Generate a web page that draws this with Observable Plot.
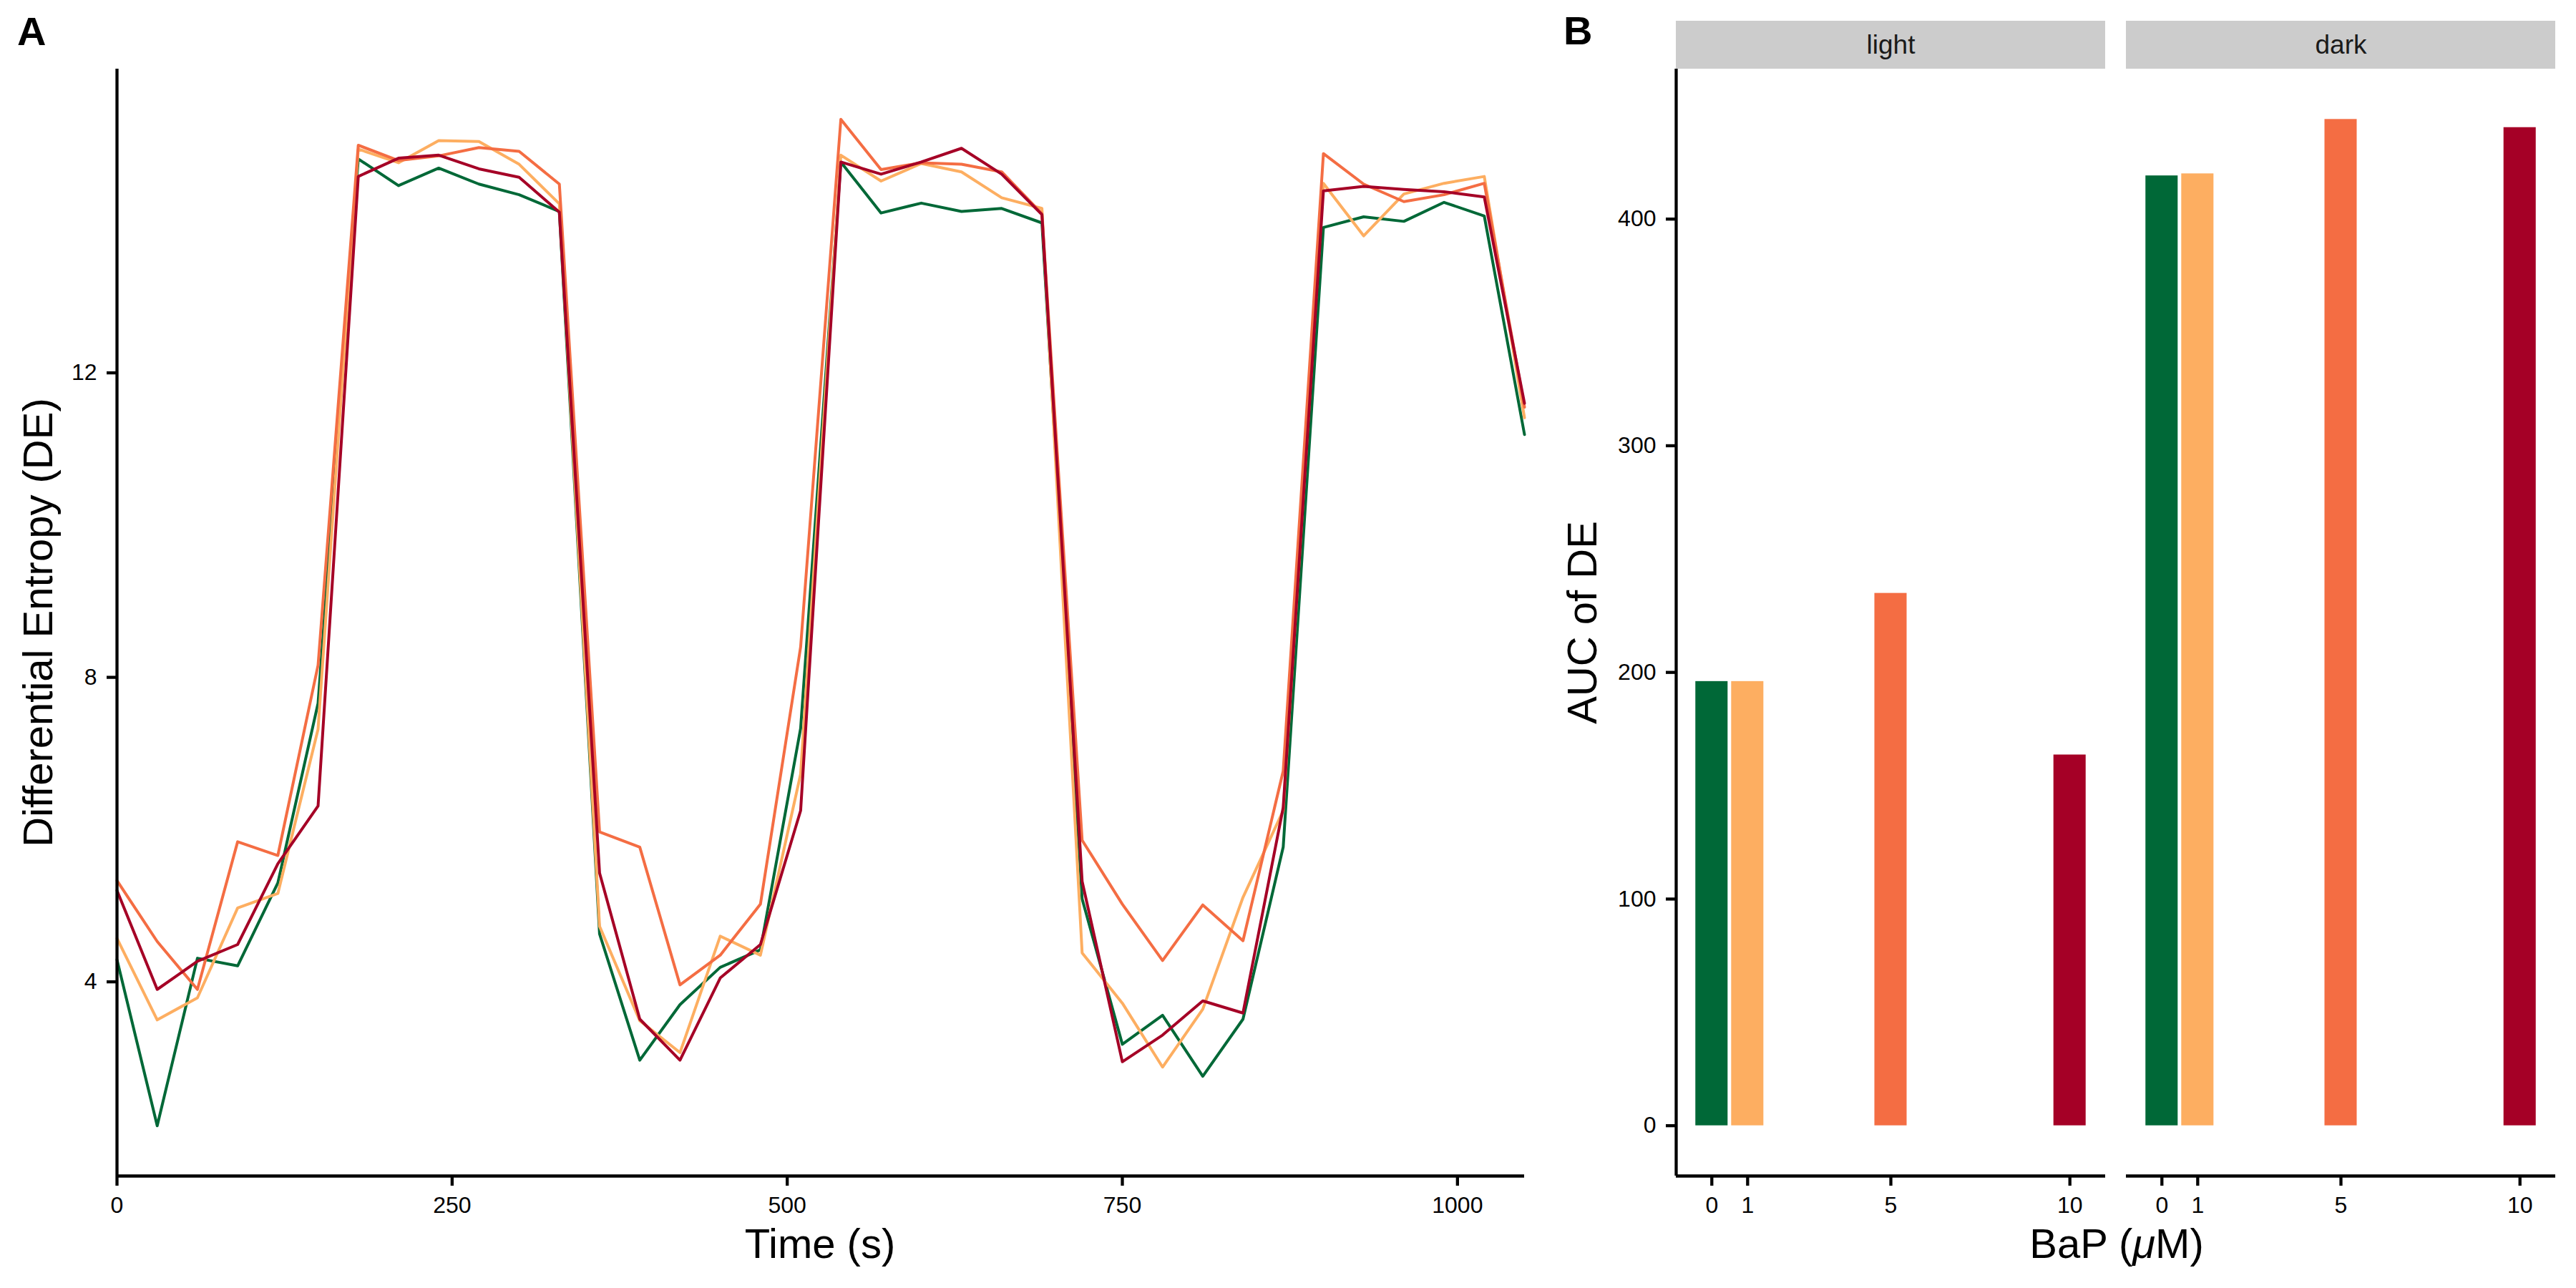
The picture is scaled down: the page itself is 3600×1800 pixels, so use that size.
<!DOCTYPE html>
<html>
<head>
<meta charset="utf-8">
<script src="https://cdn.jsdelivr.net/npm/d3@7"></script>
<script src="https://cdn.jsdelivr.net/npm/@observablehq/plot@0.6"></script>
<style>
  html, body { margin: 0; padding: 0; background: #ffffff; }
  #fig { position: relative; width: 3600px; height: 1800px; background: #ffffff; font-family: "Liberation Sans", Arial, Helvetica, sans-serif; }
  #panelA { position: absolute; left: 0; top: 0; }
  #panelB { position: absolute; left: 2150px; top: 0; }
  #overlay { position: absolute; left: 0; top: 0; pointer-events: none; }
</style>
</head>
<body>
<div id="fig">
  <div id="panelA"></div>
  <div id="panelB"></div>
  <svg id="overlay" width="3600" height="1800"></svg>
</div>
<script>
// ---------------- DATA ----------------
const times = [0, 30, 60, 90, 120, 150, 180, 210, 240, 270, 300, 330, 360, 390, 420, 450, 480, 510,
               540, 570, 600, 630, 660, 690, 720, 750, 780, 810, 840, 870, 900, 930, 960, 990, 1020, 1050];

const bapLevels = ["0", "1", "5", "10"];
const bapColors = ["#006837", "#FDAE61", "#F46D43", "#A50026"];

const de_0 = [4.29, 2.11, 4.31, 4.21, 5.30, 7.66, 14.81, 14.46, 14.69, 14.48, 14.34, 14.12,
              4.63, 2.97, 3.70, 4.19, 4.42, 7.33, 14.77, 14.10, 14.23, 14.12, 14.16, 13.97,
              5.09, 3.18, 3.56, 2.76, 3.51, 5.77, 13.91, 14.05, 13.99, 14.24, 14.06, 11.19];
const de_1 = [4.57, 3.50, 3.79, 4.97, 5.16, 7.32, 14.94, 14.76, 15.05, 15.04, 14.74, 14.22,
              4.73, 3.49, 3.07, 4.60, 4.35, 6.73, 14.86, 14.52, 14.75, 14.64, 14.30, 14.16,
              4.38, 3.72, 2.88, 3.64, 5.11, 6.25, 14.49, 13.80, 14.35, 14.49, 14.58, 11.41];
const de_5 = [5.33, 4.53, 3.90, 5.84, 5.66, 8.16, 14.99, 14.79, 14.85, 14.96, 14.91, 14.48,
              5.97, 5.77, 3.96, 4.35, 5.02, 8.40, 15.33, 14.67, 14.76, 14.74, 14.64, 14.09,
              5.86, 5.02, 4.28, 5.01, 4.54, 6.77, 14.88, 14.48, 14.25, 14.34, 14.49, 11.55];
const de_10 = [5.20, 3.90, 4.27, 4.49, 5.55, 6.31, 14.58, 14.82, 14.86, 14.68, 14.57, 14.11,
               5.43, 3.51, 2.97, 4.05, 4.49, 6.25, 14.77, 14.61, 14.77, 14.95, 14.61, 14.08,
               5.32, 2.95, 3.30, 3.75, 3.59, 6.29, 14.39, 14.45, 14.41, 14.38, 14.31, 11.60];

const conditions = ["light", "dark"];
const doses = [0, 1, 5, 10];
const auc_light = [196.0, 196.0, 234.9, 163.6];
const auc_dark = [419.1, 420.0, 444.0, 440.4];

const timeTicks = [0, 250, 500, 750, 1000];
const deTicks = [4, 8, 12];
const doseTicks = [0, 1, 5, 10];
const aucTicks = [0, 100, 200, 300, 400];

// ---------------- BUILD TABLES ----------------
const FONT = '"Liberation Sans", Arial, Helvetica, sans-serif';
const deSeries = [de_0, de_1, de_5, de_10];
const rowsA = [];
bapLevels.forEach((b, si) => times.forEach((t, i) => rowsA.push({time: t, de: deSeries[si][i], bap: b})));

const rowsB = [];
conditions.forEach((c, ci) => {
  const vals = ci === 0 ? auc_light : auc_dark;
  doses.forEach((d, i) => rowsB.push({cond: c, dose: d, bap: bapLevels[i], auc: vals[i]}));
});

const expand = (lo, hi, f = 0.05) => { const r = hi - lo; return [lo - f * r, hi + f * r]; };

const AXIS_W = 4.3;
const TICK_FS = 32;
const plain = d => String(d);

// ---------------- PANEL A ----------------
const xA = d3.extent(times);
const yA = expand(...d3.extent(rowsA, d => d.de));

const chartA = Plot.plot({
  width: 2150, height: 1800,
  marginLeft: 163, marginRight: 20, marginTop: 96, marginBottom: 157,
  style: {fontFamily: FONT, background: "transparent", color: "#000", overflow: "visible"},
  x: {domain: xA},
  y: {domain: yA},
  color: {domain: bapLevels, range: bapColors},
  marks: [
    Plot.lineY(rowsA, {x: "time", y: "de", z: "bap", stroke: "bap", strokeWidth: 4, strokeLinejoin: "round"}),
    Plot.ruleX([xA[0]], {strokeWidth: AXIS_W}),
    Plot.ruleY([yA[0]], {strokeWidth: AXIS_W}),
    Plot.axisX({ticks: timeTicks, tickFormat: plain, tickSize: 14, tickPadding: 15, fontSize: TICK_FS, strokeWidth: AXIS_W, label: null}),
    Plot.axisY({ticks: deTicks, tickFormat: plain, tickSize: 14, tickPadding: 14, fontSize: TICK_FS, strokeWidth: AXIS_W, label: null})
  ]
});
document.getElementById("panelA").append(chartA);

// ---------------- PANEL B ----------------
const barHalf = 0.45;
const xB = expand(d3.min(doses) - barHalf, d3.max(doses) + barHalf);
const yB = expand(0, d3.max(rowsB, d => d.auc));

const chartB = Plot.plot({
  width: 1450, height: 1800,
  marginLeft: 191, marginRight: 28, marginTop: 96, marginBottom: 157,
  style: {fontFamily: FONT, background: "transparent", color: "#000", overflow: "visible"},
  fx: {domain: conditions, paddingInner: 0.046, paddingOuter: 0, axis: null},
  x: {domain: xB},
  y: {domain: yB},
  color: {domain: bapLevels, range: bapColors},
  marks: [
    // facet strips
    Plot.rect(conditions, {fx: d => d, x1: () => xB[0], x2: () => xB[1], y1: () => yB[1], y2: () => yB[1],
                           insetTop: -67, fill: "#cccccc"}),
    Plot.text(conditions, {fx: d => d, text: d => d, frameAnchor: "top", dy: -33.5, fontSize: 37,
                           lineAnchor: "middle", fill: "#1a1a1a"}),
    // bars
    Plot.rect(rowsB, {fx: "cond", x1: d => d.dose - barHalf, x2: d => d.dose + barHalf,
                      y1: () => 0, y2: "auc", fill: "bap"}),
    // axis lines
    Plot.ruleX([{cond: conditions[0]}], {fx: "cond", x: () => xB[0], strokeWidth: AXIS_W}),
    Plot.ruleY([yB[0]], {strokeWidth: AXIS_W}),
    Plot.axisX({ticks: doseTicks, tickFormat: plain, tickSize: 14, tickPadding: 15, fontSize: TICK_FS, strokeWidth: AXIS_W, label: null}),
    Plot.axisY({ticks: aucTicks, tickFormat: plain, tickSize: 14, tickPadding: 14, fontSize: TICK_FS, strokeWidth: AXIS_W, label: null})
  ]
});
document.getElementById("panelB").append(chartB);

// ---------------- TITLES ----------------
const ov = d3.select("#overlay").style("font-family", FONT);
ov.append("text").attr("x", 24).attr("y", 63).attr("font-size", 56).attr("font-weight", "bold").text("A");
ov.append("text").attr("x", 2185).attr("y", 62).attr("font-size", 56).attr("font-weight", "bold").text("B");
ov.append("text").attr("x", 1146).attr("y", 1758).attr("font-size", 58).attr("text-anchor", "middle").text("Time (s)");
ov.append("text").attr("transform", "translate(73,870) rotate(-90)").attr("font-size", 58)
  .attr("text-anchor", "middle").text("Differential Entropy (DE)");
ov.append("text").attr("transform", "translate(2231,870) rotate(-90)").attr("font-size", 58)
  .attr("text-anchor", "middle").text("AUC of DE");
const bap = ov.append("text").attr("x", 2958).attr("y", 1758).attr("font-size", 58).attr("text-anchor", "middle");
bap.append("tspan").text("BaP (");
bap.append("tspan").attr("font-style", "italic").text("\u03BC");
bap.append("tspan").text("M)");
</script>
</body>
</html>
